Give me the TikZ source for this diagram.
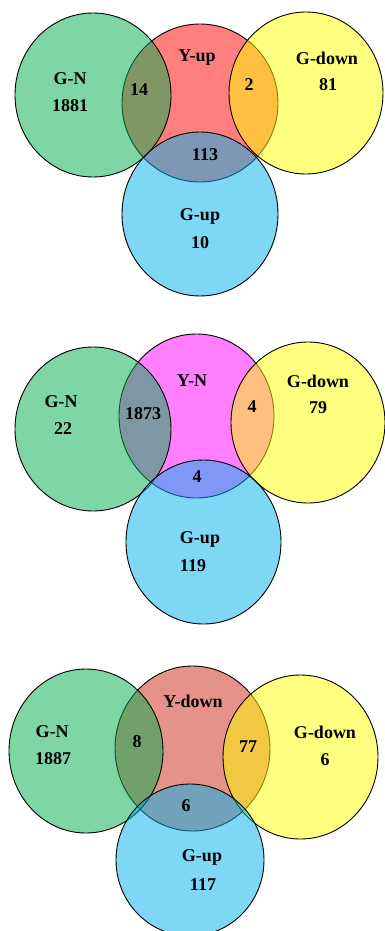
\documentclass[tikz,border=0pt]{standalone}
\usepackage{fontspec}
\setmainfont{Liberation Serif}
\definecolor{cgreen}{RGB}{0,174,76}
\definecolor{cred}{RGB}{255,0,0}
\definecolor{cyellow}{RGB}{255,255,0}
\definecolor{cblue}{RGB}{0,176,238}
\definecolor{cmag}{RGB}{255,0,255}
\definecolor{cydown}{RGB}{205,38,18}
\tikzset{
  setc/.style={fill=#1, fill opacity=0.5, draw=black, draw opacity=1, line width=0.9pt},
  lbl/.style={font=\fontsize{18}{19}\selectfont\bfseries, text=black, inner sep=0pt}
}
\begin{document}
\begin{tikzpicture}[x=1pt,y=-1pt]
\useasboundingbox (0,0) rectangle (384,931);
\fill[white] (0,0) rectangle (384,931);
% ---- Diagram 1
\draw[setc=cred] (200,103) ellipse [x radius=78pt, y radius=79pt];
\draw[setc=cgreen] (93,95) ellipse [x radius=78pt, y radius=82pt];
\draw[setc=cyellow] (306,93) ellipse [x radius=77pt, y radius=81pt];
\draw[setc=cblue] (200,214) ellipse [x radius=78pt, y radius=82pt];
\node[lbl] (a1) at (70,79) {G-N};
\node[lbl] (a2) at (70,106) {1881};
\node[lbl] (a3) at (197,58) {Y-up};
\node[lbl] (a4) at (327,58) {G-down};
\node[lbl] (a5) at (328,85) {81};
\node[lbl] (a6) at (139,90) {14};
\node[lbl] (a7) at (249,85) {2};
\node[lbl] (a8) at (205,155) {113};
\node[lbl] (a9) at (200,216) {G-up};
\node[lbl] (a10) at (200,243) {10};
% ---- Diagram 2
\draw[setc=cmag] (196.5,416) ellipse [x radius=77.5pt, y radius=82pt];
\draw[setc=cgreen] (93,429) ellipse [x radius=78pt, y radius=82pt];
\draw[setc=cyellow] (308,422.5) ellipse [x radius=77pt, y radius=80.5pt];
\draw[setc=cblue] (203.5,542) ellipse [x radius=77.5pt, y radius=82pt];
\node[lbl] (b1) at (61,402) {G-N};
\node[lbl] (b2) at (63,429) {22};
\node[lbl] (b3) at (192,381) {Y-N};
\node[lbl] (b4) at (143,414) {1873};
\node[lbl] (b5) at (252,407) {4};
\node[lbl] (b6) at (318,381) {G-down};
\node[lbl] (b7) at (318,408) {79};
\node[lbl] (b8) at (197,477) {4};
\node[lbl] (b9) at (200,539) {G-up};
\node[lbl] (b10) at (193,566) {119};
% ---- Diagram 3
\draw[setc=cydown] (192.5,748.5) ellipse [x radius=77.5pt, y radius=82.5pt];
\draw[setc=cgreen] (86,751) ellipse [x radius=77pt, y radius=82pt];
\draw[setc=cyellow] (300.5,757) ellipse [x radius=77.5pt, y radius=82pt];
\draw[setc=cblue] (190,860) ellipse [x radius=74pt, y radius=76pt];
\node[lbl] (c1) at (52,732) {G-N};
\node[lbl] (c2) at (53,759) {1887};
\node[lbl] (c3) at (193,701) {Y-down};
\node[lbl] (c4) at (137,742) {8};
\node[lbl] (c5) at (248,747) {77};
\node[lbl] (c6) at (325,732) {G-down};
\node[lbl] (c7) at (325,760) {6};
\node[lbl] (c8) at (186,806) {6};
\node[lbl] (c9) at (202,857) {G-up};
\node[lbl] (c10) at (203,885) {117};
\end{tikzpicture}
\end{document}
